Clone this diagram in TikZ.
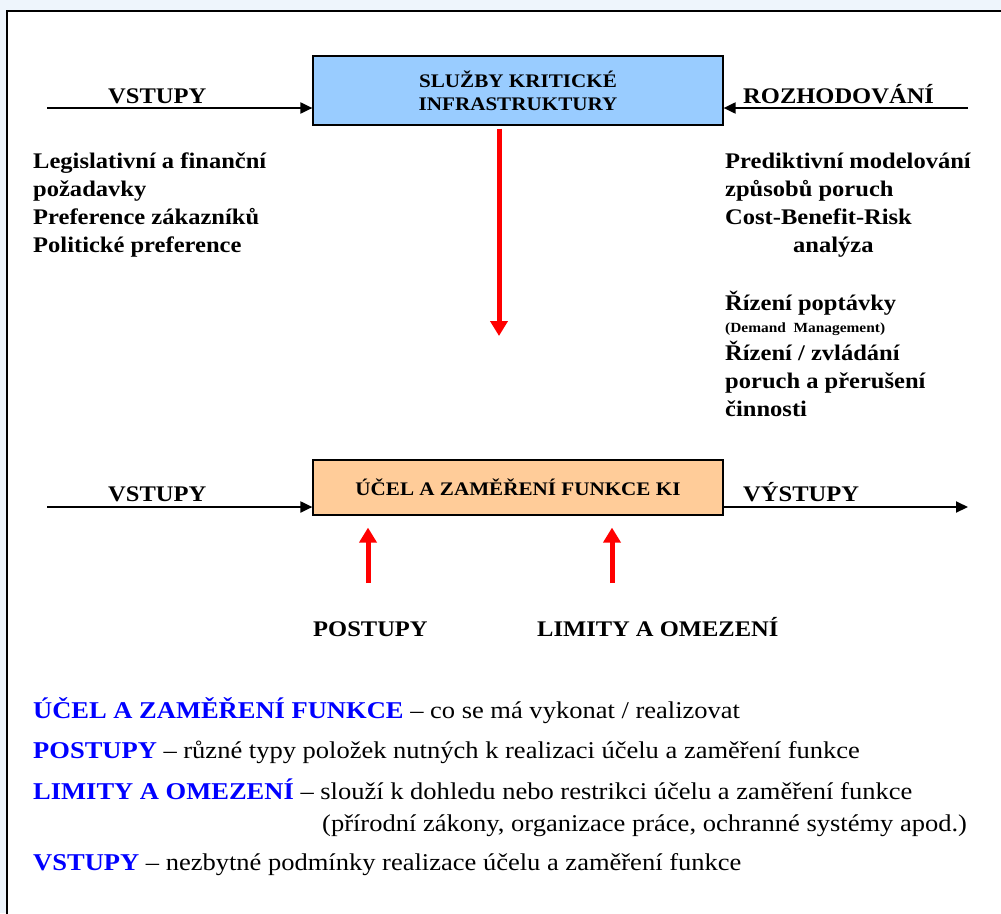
\documentclass[tikz,border=0pt]{standalone}
\usepackage{fontspec}
\setmainfont{Liberation Serif}[FakeStretch=1.1]
\usetikzlibrary{arrows.meta}
\definecolor{bgblue}{HTML}{EEF5FC}
\definecolor{boxblue}{HTML}{99CCFF}
\definecolor{boxorange}{HTML}{FFCC99}
\definecolor{txtblue}{HTML}{0000FF}
\tikzset{
  box/.style={draw=black, line width=1.2pt, minimum width=410pt, inner sep=0pt, font=\bfseries\fontsize{19.2}{23}\selectfont, align=center},
  lbl/.style={anchor=base west, inner sep=0pt, font=\bfseries\fontsize{22.3}{26}\selectfont},
  txt/.style={anchor=base west, inner sep=0pt, font=\bfseries\fontsize{22.3}{26}\selectfont},
  btxt/.style={anchor=base west, inner sep=0pt, font=\fontsize{24.1}{27}\selectfont},
  blk/.style={line width=2pt, -{Triangle[width=11pt,length=12pt]}},
  redarr/.style={draw=red, line width=5pt, -{Triangle[width=17pt,length=15pt]}},
}
\begin{document}
\begin{tikzpicture}[x=1pt,y=-1pt]
\clip (0,0) rectangle (1001,913);
\useasboundingbox (0,0) rectangle (1001,913);
\fill[bgblue] (0,0) rectangle (1001,913);
\draw[line width=2.5pt, fill=white] (7,11) rectangle (1020,940);

% top box
\node[box, fill=boxblue, minimum height=69pt] (top) at (518,90.5) {SLUŽBY KRITICKÉ\\INFRASTRUKTURY};
\coordinate (inA) at (47,108);
\coordinate (decA) at (968,108);
\draw[blk] (inA) -- (inA -| top.west);
\draw[blk] (decA) -- (decA -| top.east);
\node[lbl] (vst1) at (108,103) {VSTUPY};
\node[lbl] (roz) at (743,103) {ROZHODOVÁNÍ};

% red down arrow
\coordinate (downEnd) at (499,336);
\draw[redarr] (top.south -| downEnd) ++(0,3) -- (downEnd);

% left text
\node[txt] (l1) at (33,168) {Legislativní a finanční};
\node[txt] (l2) at (33,196) {požadavky};
\node[txt] (l3) at (33,224) {Preference zákazníků};
\node[txt] (l4) at (33,252) {Politické preference};

% right text
\node[txt] (r1) at (725,168) {Prediktivní modelování};
\node[txt] (r2) at (725,196) {způsobů poruch};
\node[txt] (r3) at (725,224) {Cost-Benefit-Risk};
\node[txt] (r4) at (793,252) {analýza};
\node[txt] (r5) at (725,310) {Řízení poptávky};
\node[anchor=base west, inner sep=0pt, font=\bfseries\fontsize{14}{16}\selectfont] (r6) at (725,332) {(Demand\ \ Management)};
\node[txt] (r7) at (725,360) {Řízení / zvládání};
\node[txt] (r8) at (725,388) {poruch a přerušení};
\node[txt] (r9) at (725,416) {činnosti};

% bottom box
\node[box, fill=boxorange, minimum height=55pt] (mid) at (518,487.5) {ÚČEL A ZAMĚŘENÍ FUNKCE KI};
\coordinate (inB) at (47,507);
\coordinate (outB) at (968,507);
\draw[blk] (inB) -- (inB -| mid.west);
\draw[blk] (outB -| mid.east) -- (outB);
\node[lbl] (vst2) at (108,501) {VSTUPY};
\node[lbl] (vys) at (743,501) {VÝSTUPY};

% red up arrows
\coordinate (p1) at (368,583);
\coordinate (p2) at (612,583);
\draw[redarr] (p1) -- ([yshift=-12pt]p1 |- mid.south);
\draw[redarr] (p2) -- ([yshift=-12pt]p2 |- mid.south);

\node[lbl] (post) at (313,636) {POSTUPY};
\node[lbl] (lim) at (537,636) {LIMITY A OMEZENÍ};

% legend
\node[btxt] (d1) at (33,718) {{\bfseries\color{txtblue}ÚČEL A ZAMĚŘENÍ FUNKCE} – co se má vykonat / realizovat};
\node[btxt] (d2) at (33,758) {{\bfseries\color{txtblue}POSTUPY} – různé typy položek nutných k realizaci účelu a zaměření funkce};
\node[btxt] (d3) at (33,799) {{\bfseries\color{txtblue}LIMITY A OMEZENÍ} – slouží k dohledu nebo restrikci účelu a zaměření funkce};
\node[btxt] (d4) at (322,831) {(přírodní zákony, organizace práce, ochranné systémy apod.)};
\node[btxt] (d5) at (33,870) {{\bfseries\color{txtblue}VSTUPY} – nezbytné podmínky realizace účelu a zaměření funkce};
\end{tikzpicture}
\end{document}
